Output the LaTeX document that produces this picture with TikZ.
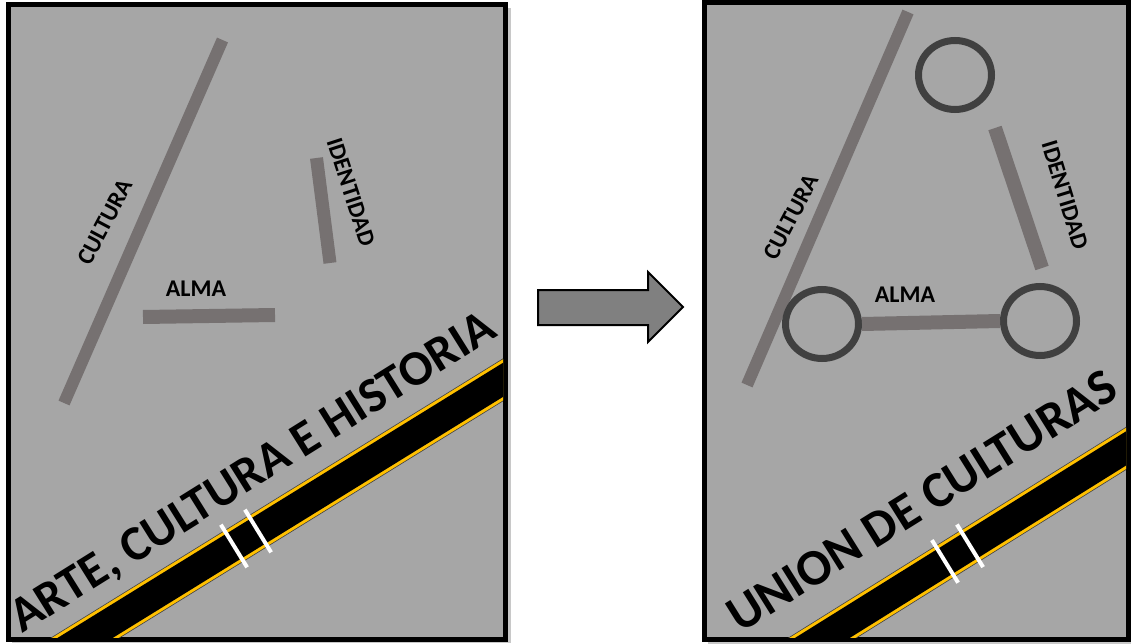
\documentclass[tikz,border=0pt]{standalone}
\usepackage{fontspec}
\setmainfont{Carlito}
\usetikzlibrary{shapes.geometric}
\definecolor{bg}{HTML}{A6A6A6}
\definecolor{barc}{HTML}{767171}
\definecolor{ringc}{HTML}{404040}
\definecolor{arrowc}{HTML}{808080}
\definecolor{roady}{HTML}{FFC000}
\definecolor{shadowc}{HTML}{C8C8C8}
\begin{document}
\begin{tikzpicture}[x=1pt,y=-1pt,
  panel/.style={draw=black, line width=5pt, fill=bg},
  shadowbox/.style={fill=shadowc},
  barline/.style={draw=barc, line width=13pt},
  lbl/.style={font=\fontsize{24}{24}\selectfont\bfseries, inner sep=0pt},
  big/.style={font=\fontsize{49.5}{50}\selectfont\bfseries, inner sep=0pt, anchor=base west},
  ringnode/.style={draw=ringc, line width=7pt, shape=ellipse, minimum width=73pt, minimum height=69pt, inner sep=0pt},
  roadedge/.style={draw=black!75, line width=36.5pt},
  roadyel/.style={draw=roady, line width=35pt},
  roadblk/.style={draw=black, line width=29pt},
  zebra/.style={draw=white, line width=4pt},
  bigarrow/.style={fill=arrowc, draw=black, line width=2pt, line join=miter}
]
\useasboundingbox (0,0) rectangle (1131,644);

% ---------- left panel ----------
\path[shadowbox] (12,8) rectangle (511,643);
\path[panel] (8.5,4.5) rectangle (505.5,639.5);
\begin{scope}
  \clip (11,7) rectangle (503,637);
  \coordinate (lr1) at (0,690.5);
  \coordinate (lr2) at (540,357);
  \draw[roadedge] (lr1) -- (lr2);
  \draw[roadyel] (lr1) -- (lr2);
  \draw[roadblk] (lr1) -- (lr2);
  \coordinate (lz1a) at (220.9,524.7);
  \coordinate (lz1b) at (247.1,567.3);
  \coordinate (lz2a) at (244.9,509.7);
  \coordinate (lz2b) at (271.1,552.3);
  \draw[zebra] (lz1a) -- (lz1b);
  \draw[zebra] (lz2a) -- (lz2b);
\end{scope}
\coordinate (lc1) at (222.5,40);
\coordinate (lc2) at (64,403);
\draw[barline, line width=12pt] (lc1) -- (lc2);
\coordinate (la1) at (143,317);
\coordinate (la2) at (275,315);
\draw[barline, line width=14pt] (la1) -- (la2);
\coordinate (li1) at (316.5,158);
\coordinate (li2) at (330,263);
\draw[barline] (li1) -- (li2);
\node[lbl, rotate=62] (lcult) at (105,222) {CULTURA};
\node[lbl] (lalma) at (196,289) {ALMA};
\node[lbl, rotate=-72] (lident) at (351,192) {IDENTIDAD};
\node[big, rotate=32] (ltitle) at (22,634) {ARTE, CULTURA E HISTORIA};

% ---------- arrow ----------
\path[bigarrow] (538,290) -- (648,290) -- (648,272) -- (683,307) -- (648,342) -- (648,325) -- (538,325) -- cycle;

% ---------- right panel ----------
\path[shadowbox] (708,6) rectangle (1131,644);
\path[panel] (704.5,2.5) rectangle (1128.5,639.5);
\begin{scope}
  \clip (707,5) rectangle (1126,637);
  \coordinate (rr1) at (700,714.3);
  \coordinate (rr2) at (1140,439.7);
  \draw[roadedge] (rr1) -- (rr2);
  \draw[roadyel] (rr1) -- (rr2);
  \draw[roadblk] (rr1) -- (rr2);
  \coordinate (rz1a) at (931.9,540.1);
  \coordinate (rz1b) at (958.1,582.7);
  \coordinate (rz2a) at (956.9,524.5);
  \coordinate (rz2b) at (983.1,567.1);
  \draw[zebra] (rz1a) -- (rz1b);
  \draw[zebra] (rz2a) -- (rz2b);
\end{scope}
\coordinate (rc1) at (908,12);
\coordinate (rc2) at (747,385);
\draw[barline, line width=12pt] (rc1) -- (rc2);
\node[ringnode] (ctop) at (955,75) {};
\node[ringnode] (cleft) at (822,324) {};
\node[ringnode] (cright) at (1040,321) {};
\draw[barline, line width=14pt] (cleft.east) -- (cright.west);
\coordinate (ri1) at (995,128);
\coordinate (ri2) at (1042,268);
\draw[barline, line width=14pt] (ri1) -- (ri2);
\node[lbl, rotate=62] (rcult) at (791,217) {CULTURA};
\node[lbl] (ralma) at (905,295) {ALMA};
\node[lbl, rotate=-73] (rident) at (1065,195) {IDENTIDAD};
\node[big, rotate=32, font=\fontsize{51}{51}\selectfont\bfseries] (rtitle) at (740,634) {UNION DE CULTURAS};
\end{tikzpicture}
\end{document}
